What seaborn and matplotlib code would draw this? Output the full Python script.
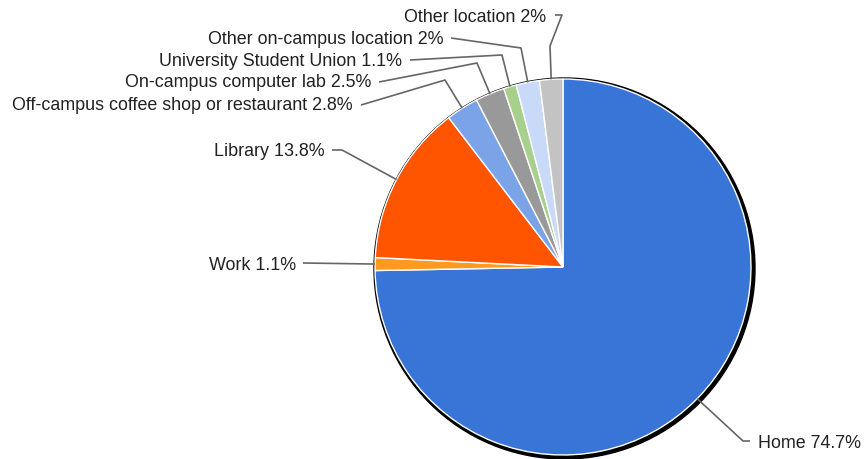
import numpy as np
import matplotlib
matplotlib.use("Agg")
import matplotlib.pyplot as plt
from matplotlib.patches import Circle
import seaborn as sns

# study locations, share of respondents (%)
locations = [
    "Home",
    "Work",
    "Library",
    "Off-campus coffee shop or restaurant",
    "On-campus computer lab",
    "University Student Union",
    "Other on-campus location",
    "Other location",
]
shares = [74.7, 1.1, 13.8, 2.8, 2.5, 1.1, 2, 2]
share_text = ["74.7%", "1.1%", "13.8%", "2.8%", "2.5%", "1.1%", "2%", "2%"]

COLORS = ["#3875d7", "#ff9a1f", "#ff5500", "#7ba3e8",
          "#999999", "#a8d08d", "#c9daf8", "#c3c3c3"]
LEADER = "#666666"

# pie geometry in pixels (864x460 canvas)
CX, CY, R = 563, 268, 188
W, H = 864, 460

# label layout in pixels: text anchor, alignment, leader elbow points (text side first)
LAYOUT = [
    ((758, 443), "left", [(750, 442), (743, 442)]),
    ((296, 265), "right", [(303, 264)]),
    ((325, 152), "right", [(332, 151), (342, 151)]),
    ((353, 106), "right", [(361, 106), (445, 81)]),
    ((371, 83), "right", [(379, 83), (477, 64)]),
    ((402, 61), "right", [(410, 61), (502, 56)]),
    ((444, 40), "right", [(451, 39), (521, 49)]),
    ((546, 17), "right", [(555, 16), (562, 16), (550, 47)]),
]


def px(x, y):
    return (x - CX) / R, (CY - y) / R


def main():
    sns.set_theme(style="white")
    plt.rcParams["font.family"] = ["Liberation Sans", "DejaVu Sans"]

    fig = plt.figure(figsize=(W / 100, H / 100), dpi=100)
    ax = fig.add_axes([0, 0, 1, 1])

    # dark rim behind the pie, heavier to the lower right
    ax.add_patch(Circle((1.5 / R, -1.5 / R), 1 + 2.5 / R, color="black", zorder=0))

    wedges, _ = ax.pie(
        shares,
        colors=COLORS,
        startangle=90,
        counterclock=False,
        radius=1,
        wedgeprops={"edgecolor": "white", "linewidth": 1.0, "zorder": 1},
    )

    for w, name, pct, (anchor, ha, elbows) in zip(wedges, locations, share_text, LAYOUT):
        mid = np.deg2rad((w.theta1 + w.theta2) / 2)
        edge = (np.cos(mid), np.sin(mid))
        pts = [px(*p) for p in elbows] + [edge]
        xs, ys = zip(*pts)
        ax.plot(xs, ys, color=LEADER, lw=1.2, zorder=2, solid_capstyle="butt")
        tx, ty = px(*anchor)
        ax.text(tx, ty, f"{name} {pct}", ha=ha, va="center",
                fontsize=12.9, color="#222222")

    x0, y0 = px(0, H)
    x1, y1 = px(W, 0)
    ax.set_xlim(x0, x1)
    ax.set_ylim(y0, y1)
    ax.set_aspect("equal", adjustable="box")
    ax.axis("off")

    fig.savefig("out.png", dpi=100, facecolor="white")
    plt.close(fig)


if __name__ == "__main__":
    main()
